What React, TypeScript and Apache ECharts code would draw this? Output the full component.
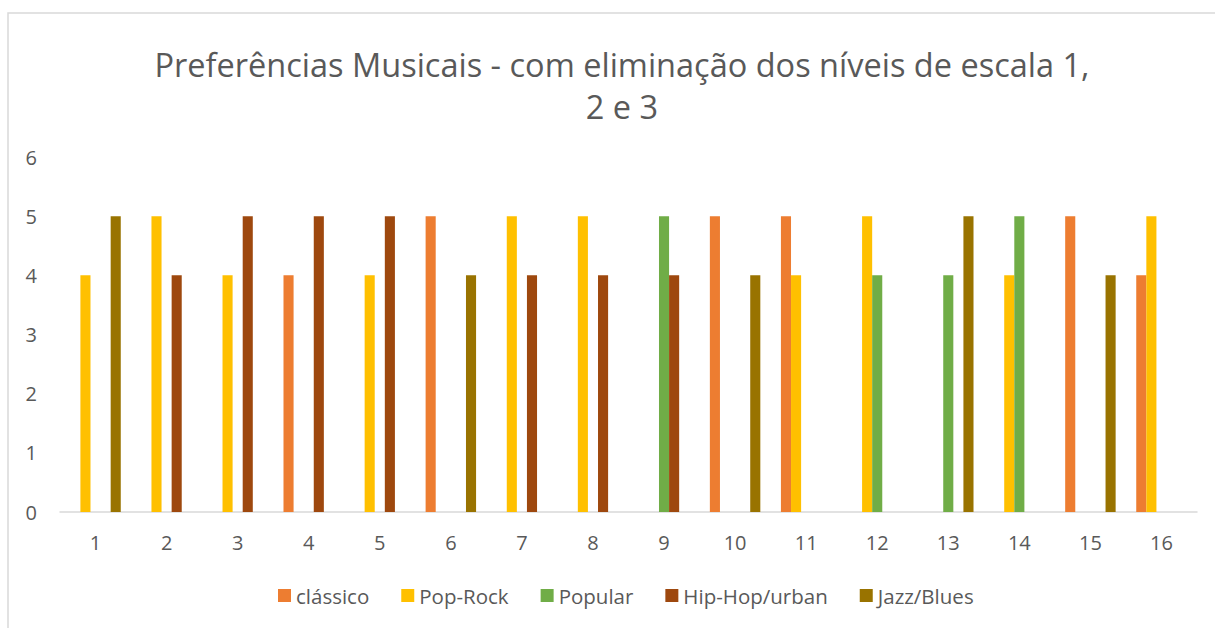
import React, { useEffect, useRef } from "react";
import * as echarts from "echarts";

const categories = ["1","2","3","4","5","6","7","8","9","10","11","12","13","14","15","16"];
const seriesNames = ["clássico", "Pop-Rock", "Popular", "Hip-Hop/urban", "Jazz/Blues"];
const classico = [null, null, null, 4, null, 5, null, null, null, 5, 5, null, null, null, 5, 4];
const popRock = [4, 5, 4, null, 4, null, 5, 5, null, null, 4, 5, null, 4, null, 5];
const popular = [null, null, null, null, null, null, null, null, 5, null, null, 4, 4, 5, null, null];
const hipHop = [null, 4, 5, 5, 5, null, 4, 4, 4, null, null, null, null, null, null, null];
const jazz = [5, null, null, null, null, 4, null, null, null, 4, null, null, 5, null, 4, null];
const colors = ["#ED7D31", "#FFC000", "#70AD47", "#9E480E", "#997300"];
const titleText = "Preferências Musicais - com eliminação dos níveis de escala 1,\n2 e 3";

export default function App() {
  const ref = useRef<HTMLDivElement>(null);
  useEffect(() => {
    if (!ref.current) return;
    const chart = echarts.init(ref.current, null, { renderer: "svg" });
    const font = "'Open Sans', 'Noto Sans', sans-serif";
    const data = [classico, popRock, popular, hipHop, jazz];
    chart.setOption({
      animation: false,
      color: colors,
      textStyle: { fontFamily: font },
      graphic: [
        {
          type: "rect",
          shape: { x: 8, y: 13, width: 1215, height: 630 },
          style: { fill: "none", stroke: "#d9d9d9", lineWidth: 1.5 },
          silent: true,
        },
      ],
      title: {
        text: titleText,
        left: 617,
        textAlign: "center",
        top: 38,
        textStyle: {
          fontFamily: font,
          fontSize: 32.5,
          fontWeight: "normal",
          color: "#595959",
          lineHeight: 42,
        },
      },
      legend: {
        bottom: 17,
        left: 273,
        itemWidth: 13,
        itemHeight: 13,
        itemGap: 32,
        icon: "rect",
        textStyle: { fontSize: 20.5, color: "#595959", fontFamily: font },
        data: seriesNames,
      },
      grid: { left: 60, right: 18, top: 157, bottom: 116, containLabel: false },
      xAxis: {
        type: "category",
        data: categories,
        axisLine: { lineStyle: { color: "#d9d9d9", width: 1.5 } },
        axisTick: { show: false },
        axisLabel: { fontSize: 20, color: "#595959", margin: 20, fontFamily: font },
      },
      yAxis: {
        type: "value",
        min: 0,
        max: 6,
        interval: 1,
        splitLine: { show: false },
        axisLine: { show: false },
        axisTick: { show: false },
        axisLabel: { fontSize: 20, color: "#595959", margin: 23, fontFamily: font },
      },
      series: seriesNames.map((name, i) => ({
        name,
        type: "bar",
        data: data[i],
        barGap: "0%",
        barCategoryGap: "29%",
        itemStyle: { color: colors[i] },
      })),
    });
    return () => chart.dispose();
  }, []);
  return (
    <div
      ref={ref}
      style={{ position: "absolute", left: 0, top: 0, width: 1215, height: 628, background: "#fff" }}
    />
  );
}
